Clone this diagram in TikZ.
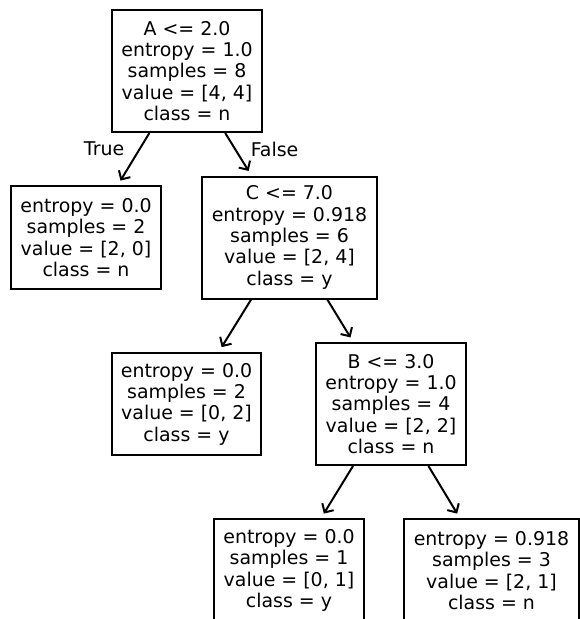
\documentclass[tikz,border=0pt]{standalone}
\usepackage{fontspec}
\setmainfont{DejaVu Sans}
\usetikzlibrary{arrows.meta}
\usetikzlibrary{positioning}
\tikzstyle{split} = [rectangle, draw, fill=white, line width=1.5pt, align=center,
    inner xsep=7pt, minimum height=91.5pt, font=\fontsize{14.2pt}{16pt}\selectfont]
\tikzstyle{leaf} = [split, minimum height=77pt]
\tikzstyle{line} = [draw, line width=1.5pt, -{Straight Barb[length=5pt, width=10pt, line width=1.5pt]}, shorten >=4pt]
\tikzstyle{lbl} = [inner sep=0pt, font=\fontsize{14.2pt}{16pt}\selectfont]

\begin{document}
\begin{tikzpicture}[node distance = 124.875pt, auto]
  \clip (0,0) rectangle (435pt,-464.25pt);
  % Place nodes
  \node [split] (root) at (140.25pt,-53.25pt) {A <= 2.0\\entropy = 1.0\\samples = 8\\value = [4, 4]\\class = n};
  \node [leaf, below of=root, xshift=-75.75pt] (leftleaf) {entropy = 0.0\\samples = 2\\value = [2, 0]\\class = n};
  \node [split, below of=root, xshift=76.875pt] (csplit) {C <= 7.0\\entropy = 0.918\\samples = 6\\value = [2, 4]\\class = y};
  \node [leaf, below of=csplit, xshift=-77.25pt] (midleaf) {entropy = 0.0\\samples = 2\\value = [0, 2]\\class = y};
  \node [split, below of=csplit, xshift=76.125pt] (bsplit) {B <= 3.0\\entropy = 1.0\\samples = 4\\value = [2, 2]\\class = n};
  \node [leaf, below of=bsplit, xshift=-76.5pt] (lowleft) {entropy = 0.0\\samples = 1\\value = [0, 1]\\class = y};
  \node [leaf, below of=bsplit, xshift=75.375pt] (lowright) {entropy = 0.918\\samples = 3\\value = [2, 1]\\class = n};

  % Draw edges
  \path [line] (root) -- node [lbl, pos=0.3, left=11pt] {True} (leftleaf);
  \path [line] (root) -- node [lbl, pos=0.38, right=11pt] {False} (csplit);
  \path [line] (csplit) -- (midleaf);
  \path [line] (csplit) -- (bsplit);
  \path [line] (bsplit) -- (lowleft);
  \path [line] (bsplit) -- (lowright);
\end{tikzpicture}
\end{document}
